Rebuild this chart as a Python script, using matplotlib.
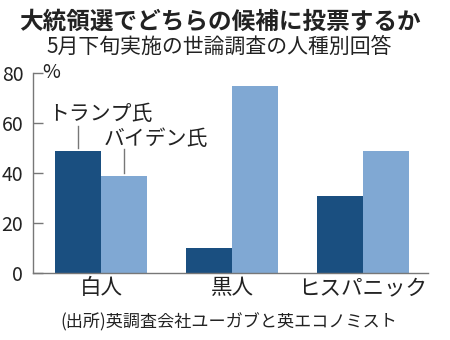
import numpy as np
import matplotlib
matplotlib.use("Agg")
import matplotlib.pyplot as plt
from matplotlib.transforms import blended_transform_factory

categories = ["白人", "黒人", "ヒスパニック"]
trump = [49, 10, 31]
biden = [39, 75, 49]
yticks = [0, 20, 40, 60, 80]
series_names = ["トランプ氏", "バイデン氏"]
title = "大統領選でどちらの候補に投票するか"
subtitle = "5月下旬実施の世論調査の人種別回答"
source = "(出所)英調査会社ユーガブと英エコノミスト"

JP = ["Noto Sans CJK JP", "DejaVu Sans"]
plt.rcParams["font.family"] = JP
txt = "#222222"
dark = "#1a4f80"
light = "#80a8d3"
gray = "#777777"

fig = plt.figure(figsize=(4.5, 3.4), dpi=100)
ax = fig.add_axes([33/450, 67/340, 395/450, 200/340])

x = np.arange(len(categories))
w = 0.351
ax.bar(x - w/2, trump, width=w, color=dark)
ax.bar(x + w/2, biden, width=w, color=light)

ax.set_xlim(-0.519, 2.496)
ax.set_ylim(0, 80)
ax.set_yticks(yticks)
ax.set_yticklabels([str(v) for v in yticks], fontsize=14, color=txt)
ax.set_xticks(x)
ax.set_xticklabels(categories, fontsize=15.5, color=txt)
ax.tick_params(axis="y", direction="in", length=7, width=1, color=gray, pad=7)
ax.tick_params(axis="x", length=0, pad=3)
for s in ["top", "right"]:
    ax.spines[s].set_visible(False)
for s in ["left", "bottom"]:
    ax.spines[s].set_color(gray)
    ax.spines[s].set_linewidth(1)

tr = blended_transform_factory(ax.transAxes, ax.transData)
ax.text(0.024, 80, "%", transform=tr, fontsize=14, color=txt, va="center", ha="left")

# leader lines and labels
ax.plot([x[0] - w/2]*2, [trump[0] + 1, trump[0] + 10], color=gray, lw=1)
ax.text(x[0] - w/2 + 0.17, trump[0] + 14.5, series_names[0], fontsize=15, color=txt, ha="center", va="center")
ax.plot([x[0] + w/2]*2, [biden[0] + 1, biden[0] + 10.5], color=gray, lw=1)
ax.text(x[0] + w/2 + 0.24, biden[0] + 14.5, series_names[1], fontsize=15, color=txt, ha="center", va="center")

fig.text(0.488, 0.935, title, fontsize=17, fontweight="bold", color=txt, ha="center", va="center")
fig.text(0.487, 0.862, subtitle, fontsize=15, color=txt, ha="center", va="center")
fig.text(60/450, 1 - 322/340, source, fontsize=12.3, color=txt, ha="left", va="center")

fig.savefig("out.png", dpi=100)
